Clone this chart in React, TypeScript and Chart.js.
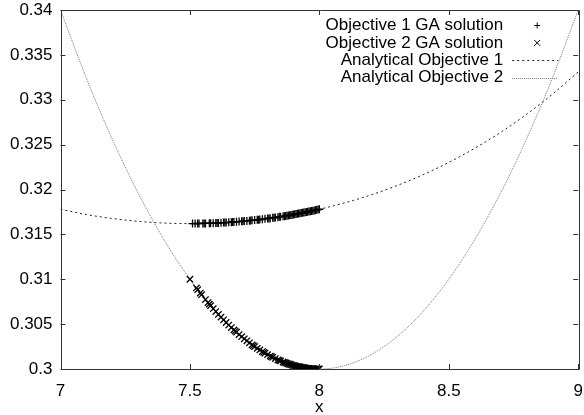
import React, { useEffect, useRef } from "react";
import { Chart, registerables } from "chart.js";

Chart.register(...registerables);

const curveX = [7.0, 7.1, 7.2, 7.3, 7.4, 7.5, 7.6, 7.7, 7.8, 7.9, 8.0, 8.1, 8.2, 8.3, 8.4, 8.5, 8.6, 8.7, 8.8, 8.9, 9.0];
const analytic1 = [0.3178, 0.31721, 0.31677, 0.31645, 0.31626, 0.3162, 0.31626, 0.31645, 0.31677, 0.31721, 0.3178, 0.31853, 0.3194, 0.32044, 0.32164, 0.32302, 0.32459, 0.32636, 0.32837, 0.33061, 0.3331];
const analytic2 = [0.34, 0.3324, 0.3256, 0.3196, 0.3144, 0.31, 0.3064, 0.3036, 0.3016, 0.3004, 0.3, 0.3004, 0.3016, 0.3036, 0.3064, 0.31, 0.3144, 0.3196, 0.3256, 0.3324, 0.34];

// GA solutions
const ga1X = [7.51, 7.52, 7.53, 7.535, 7.55, 7.555, 7.56, 7.575, 7.58, 7.59, 7.6, 7.605, 7.61, 7.62, 7.63, 7.635, 7.64, 7.65, 7.66, 7.665, 7.67, 7.68, 7.69, 7.7, 7.705, 7.71, 7.72, 7.73, 7.735, 7.74, 7.75, 7.76, 7.765, 7.77, 7.78, 7.79, 7.8, 7.805, 7.81, 7.82, 7.825, 7.83, 7.84, 7.845, 7.85, 7.86, 7.865, 7.87, 7.875, 7.88, 7.885, 7.89, 7.895, 7.9, 7.905, 7.91, 7.915, 7.92, 7.925, 7.93, 7.935, 7.94, 7.945, 7.95, 7.955, 7.96, 7.965, 7.97, 7.975, 7.98, 7.985, 7.99, 7.995, 8.0];
const ga1Y = [0.3162, 0.3162, 0.31621, 0.31621, 0.31622, 0.31622, 0.31622, 0.31624, 0.31624, 0.31625, 0.31626, 0.31627, 0.31628, 0.31629, 0.31631, 0.31631, 0.31632, 0.31634, 0.31636, 0.31637, 0.31638, 0.3164, 0.31643, 0.31645, 0.31646, 0.31648, 0.3165, 0.31653, 0.31655, 0.31656, 0.31659, 0.31662, 0.31664, 0.31666, 0.31669, 0.31673, 0.31677, 0.31678, 0.3168, 0.31684, 0.31686, 0.31688, 0.31692, 0.31695, 0.31697, 0.31701, 0.31703, 0.31706, 0.31708, 0.3171, 0.31713, 0.31715, 0.31718, 0.31721, 0.31724, 0.31727, 0.31729, 0.31732, 0.31735, 0.31738, 0.3174, 0.31743, 0.31746, 0.31749, 0.31752, 0.31755, 0.31758, 0.31761, 0.31764, 0.31767, 0.3177, 0.31773, 0.31776, 0.3178];
const ga2X = [7.5, 7.525, 7.53, 7.54, 7.545, 7.56, 7.57, 7.575, 7.58, 7.59, 7.6, 7.61, 7.62, 7.63, 7.64, 7.65, 7.66, 7.67, 7.675, 7.68, 7.69, 7.7, 7.71, 7.72, 7.73, 7.74, 7.745, 7.75, 7.76, 7.77, 7.78, 7.785, 7.79, 7.8, 7.81, 7.815, 7.82, 7.83, 7.84, 7.845, 7.85, 7.86, 7.865, 7.87, 7.875, 7.88, 7.885, 7.89, 7.895, 7.9, 7.905, 7.91, 7.915, 7.92, 7.925, 7.93, 7.935, 7.94, 7.945, 7.95, 7.955, 7.96, 7.965, 7.97, 7.975, 7.98, 7.985, 7.99, 7.995, 8.0];
const ga2Y = [0.31, 0.30903, 0.30884, 0.30846, 0.30828, 0.30774, 0.3074, 0.30723, 0.30706, 0.30672, 0.3064, 0.30608, 0.30578, 0.30548, 0.30518, 0.3049, 0.30462, 0.30436, 0.30423, 0.3041, 0.30384, 0.3036, 0.30336, 0.30314, 0.30292, 0.3027, 0.3026, 0.3025, 0.3023, 0.30212, 0.30194, 0.30185, 0.30176, 0.3016, 0.30144, 0.30137, 0.3013, 0.30116, 0.30102, 0.30096, 0.3009, 0.30078, 0.30073, 0.30068, 0.30063, 0.30058, 0.30053, 0.30048, 0.30044, 0.3004, 0.30036, 0.30032, 0.30029, 0.30026, 0.30023, 0.3002, 0.30017, 0.30014, 0.30012, 0.3001, 0.30008, 0.30006, 0.30005, 0.30004, 0.30003, 0.30002, 0.30001, 0.3, 0.3, 0.3];

const xTicks = [7, 7.5, 8, 8.5, 9];
const yTicks = [0.3, 0.305, 0.31, 0.315, 0.32, 0.325, 0.33, 0.335, 0.34];
const seriesNames = ["Objective 1 GA solution", "Objective 2 GA solution", "Analytical Objective 1", "Analytical Objective 2"];
const xTitle = "x";

const FONT = "'Liberation Sans', Arial, Helvetica, sans-serif";
const FONT_SIZE = 17;

const toPts = (xs: number[], ys: number[]) => xs.map((x, i) => ({ x, y: ys[i] }));

const framePlugin = {
  id: "gnuFrame",
  afterDatasetsDraw(chart: any) {
    const { ctx, chartArea: a, scales } = chart;
    ctx.save();
    ctx.strokeStyle = "#333";
    ctx.lineWidth = 1;
    ctx.beginPath();
    ctx.rect(Math.round(a.left) + 0.5, Math.round(a.top) + 0.5, Math.round(a.right - a.left), Math.round(a.bottom - a.top));
    ctx.stroke();
    const tl = 5;
    ctx.beginPath();
    xTicks.forEach((v) => {
      const px = Math.round(scales.x.getPixelForValue(v)) + 0.5;
      ctx.moveTo(px, a.bottom);
      ctx.lineTo(px, a.bottom - tl);
      ctx.moveTo(px, a.top);
      ctx.lineTo(px, a.top + tl);
    });
    yTicks.forEach((v) => {
      const py = Math.round(scales.y.getPixelForValue(v)) + 0.5;
      ctx.moveTo(a.left, py);
      ctx.lineTo(a.left + tl, py);
      ctx.moveTo(a.right, py);
      ctx.lineTo(a.right - tl, py);
    });
    ctx.stroke();
    ctx.restore();
  },
};

const legendPlugin = {
  id: "gnuLegend",
  afterDraw(chart: any) {
    const { ctx, chartArea: a } = chart;
    ctx.save();
    ctx.font = `${FONT_SIZE}px ${FONT}`;
    ctx.fillStyle = "#000";
    ctx.textAlign = "right";
    ctx.textBaseline = "middle";
    const textRight = a.right - 75;
    const sampleL = a.right - 66;
    const sampleR = a.right - 20;
    const rowY0 = a.top + 15.5;
    const rowStep = 17.4;
    chart.data.datasets.forEach((ds: any, i: number) => {
      const y = rowY0 + i * rowStep;
      ctx.fillText(seriesNames[i], textRight, y);
      const cx = (sampleL + sampleR) / 2 + 2;
      ctx.strokeStyle = ds.borderColor;
      ctx.lineWidth = 1;
      if (ds.showLine) {
        ctx.setLineDash(ds.borderDash || []);
        ctx.beginPath();
        ctx.moveTo(sampleL, Math.round(y) + 0.5);
        ctx.lineTo(sampleR, Math.round(y) + 0.5);
        ctx.stroke();
        ctx.setLineDash([]);
      } else {
        ctx.beginPath();
        if (ds.pointStyle === "cross") {
          ctx.moveTo(cx - 3, y);
          ctx.lineTo(cx + 3, y);
          ctx.moveTo(cx, y - 3);
          ctx.lineTo(cx, y + 3);
        } else {
          ctx.moveTo(cx - 3, y - 3);
          ctx.lineTo(cx + 3, y + 3);
          ctx.moveTo(cx - 3, y + 3);
          ctx.lineTo(cx + 3, y - 3);
        }
        ctx.stroke();
      }
    });
    ctx.restore();
  },
};

export default function App() {
  const ref = useRef<HTMLCanvasElement | null>(null);

  useEffect(() => {
    document.body.style.margin = "0";
    if (!ref.current) return;
    const chart = new Chart(ref.current, {
      type: "scatter",
      data: {
        datasets: [
          {
            label: seriesNames[0],
            data: toPts(ga1X, ga1Y),
            pointStyle: "cross",
            pointRadius: 4,
            borderColor: "#000",
            backgroundColor: "#000",
            borderWidth: 1.3,
            showLine: false,
            order: 1,
          },
          {
            label: seriesNames[1],
            data: toPts(ga2X, ga2Y),
            pointStyle: "crossRot",
            pointRadius: 4.5,
            borderColor: "#000",
            backgroundColor: "#000",
            borderWidth: 1.3,
            showLine: false,
            order: 2,
          },
          {
            label: seriesNames[2],
            data: toPts(curveX, analytic1),
            showLine: true,
            pointRadius: 0,
            borderColor: "#222",
            borderWidth: 1,
            borderDash: [2, 3],
            cubicInterpolationMode: "monotone",
            order: 3,
          },
          {
            label: seriesNames[3],
            data: toPts(curveX, analytic2),
            showLine: true,
            pointRadius: 0,
            borderColor: "#777",
            borderWidth: 1,
            borderDash: [1, 1],
            cubicInterpolationMode: "monotone",
            order: 4,
          },
        ] as any,
      },
      options: {
        animation: false,
        responsive: false,
        devicePixelRatio: 1,
        layout: { padding: { top: 10, right: 0, left: 0, bottom: 0 } },
        plugins: { legend: { display: false }, tooltip: { enabled: false } },
        scales: {
          x: {
            type: "linear",
            min: 7,
            max: 9,
            grid: { display: false, drawTicks: false },
            border: { display: false },
            afterBuildTicks: (s: any) => {
              s.ticks = xTicks.map((v) => ({ value: v }));
            },
            afterFit: (s: any) => {
              s.height = 46;
              s.paddingRight = 0;
              s.paddingLeft = 0;
            },
            ticks: {
              color: "#000",
              padding: 12,
              maxRotation: 0,
              autoSkip: false,
              font: { family: FONT, size: FONT_SIZE },
              callback: (v: any) => String(v),
            },
            title: {
              display: true,
              text: xTitle,
              color: "#000",
              font: { family: FONT, size: FONT_SIZE },
              padding: { top: 0, bottom: -3 },
            },
          },
          y: {
            type: "linear",
            min: 0.3,
            max: 0.34,
            grid: { display: false, drawTicks: false },
            border: { display: false },
            afterBuildTicks: (s: any) => {
              s.ticks = yTicks.map((v) => ({ value: v }));
            },
            afterFit: (s: any) => {
              s.width = 60.5;
              s.paddingTop = 0;
              s.paddingBottom = 0;
            },
            ticks: {
              color: "#000",
              padding: 8,
              autoSkip: false,
              font: { family: FONT, size: FONT_SIZE },
              callback: (v: any) => String(Number(Number(v).toFixed(3))),
            },
          },
        },
      } as any,
      plugins: [framePlugin, legendPlugin],
    });
    return () => chart.destroy();
  }, []);

  return (
    <div style={{ width: 584, height: 415, overflow: "hidden" }}>
      <canvas ref={ref} width={584} height={415} style={{ display: "block", width: 584, height: 415 }} />
    </div>
  );
}
